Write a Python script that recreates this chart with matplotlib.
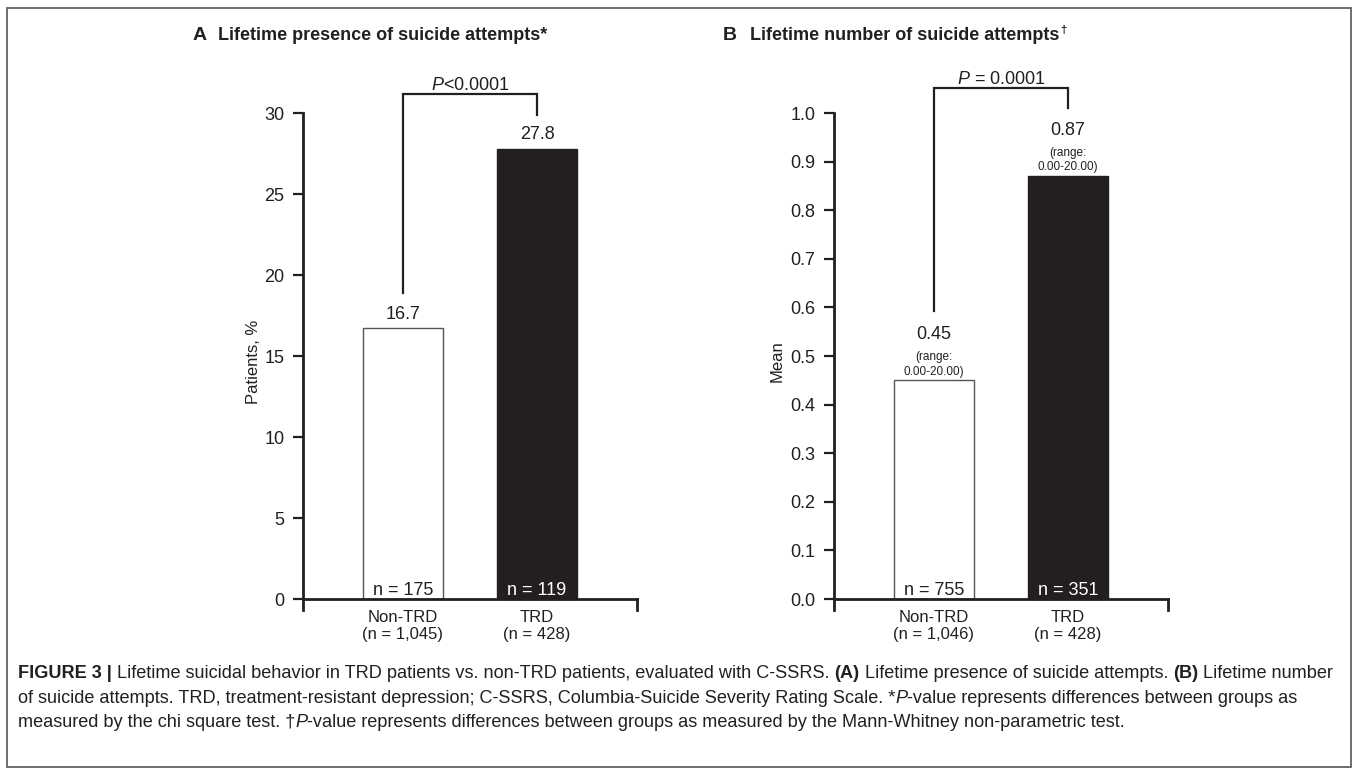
import matplotlib
matplotlib.use("Agg")
import matplotlib.pyplot as plt
from matplotlib.patches import Rectangle

# no condensed Helvetica here, Liberation Sans is the closest
plt.rcParams["font.family"] = ["Liberation Sans", "DejaVu Sans"]
plt.rcParams["mathtext.fontset"] = "custom"
plt.rcParams["mathtext.rm"] = "Liberation Sans"
plt.rcParams["mathtext.it"] = "Liberation Sans:italic"
plt.rcParams["mathtext.bf"] = "Liberation Sans:bold"

# data
groups = ["Non-TRD", "TRD"]
a_vals = [16.7, 27.8]
a_n = ["n = 175", "n = 119"]
a_totals = ["(n = 1,045)", "(n = 428)"]
b_vals = [0.45, 0.87]
b_n = ["n = 755", "n = 351"]
b_totals = ["(n = 1,046)", "(n = 428)"]
b_range = "(range:\n0.00-20.00)"
a_ticks = [0, 5, 10, 15, 20, 25, 30]
b_ticks = [0.0, 0.1, 0.2, 0.3, 0.4, 0.5, 0.6, 0.7, 0.8, 0.9, 1.0]
a_bracket = (31.2, 18.9, 29.9)   # top, left end, right end
b_bracket = (1.051, 0.593, 1.01)

W, H = 1358, 775
fig = plt.figure(figsize=(W / 100, H / 100), dpi=100)
ink = "#231f20"
bar_cols = ["white", ink]
txt_cols = [ink, "white"]


def px_axes(x0, x1, ytop, ybot):
    return fig.add_axes([x0 / W, 1 - ybot / H, (x1 - x0) / W, (ybot - ytop) / H])


def panel(ax, vals, top, ticks, fmt, ns, totals, ylabel, bracket, ptext, ranged, lpad):
    under = top * 0.0226
    ax.set_ylim(-under, top)
    ax.set_xlim(-0.746, 1.746)
    ax.bar([0, 1], vals, width=0.6, color=bar_cols, edgecolor=["#555555", ink], linewidth=1.0)
    ax.spines["top"].set_visible(False)
    for s in ["left", "bottom", "right"]:
        ax.spines[s].set_linewidth(2.0)
        ax.spines[s].set_color(ink)
    ax.spines["bottom"].set_position(("data", 0))
    ax.spines["right"].set_bounds(-under, 0)
    ax.set_yticks(ticks)
    ax.set_yticklabels([fmt.format(t) for t in ticks])
    ax.tick_params(axis="y", length=7.5, width=1.6, pad=6, labelsize=13, colors=ink)
    ax.set_xticks([0, 1])
    ax.set_xticklabels([f"{g}\n{t}" for g, t in zip(groups, totals)], linespacing=1.15, color=ink)
    ax.tick_params(axis="x", length=0, pad=8, labelsize=12)
    ax.set_ylabel(ylabel, fontsize=12, labelpad=lpad, color=ink)
    for i, v in enumerate(vals):
        ax.text(i, 0, ns[i], ha="center", va="bottom", fontsize=13, color=txt_cols[i])
        if ranged:
            ax.annotate(b_range, (i, v), xytext=(0, 2), textcoords="offset points",
                        ha="center", va="bottom", fontsize=8.5, linespacing=1.3, color=ink)
            ax.annotate(f"{v:.2f}", (i, v), xytext=(0, 27), textcoords="offset points",
                        ha="center", va="bottom", fontsize=13, color=ink)
        else:
            ax.annotate(f"{v:.1f}", (i, v), xytext=(0, 4), textcoords="offset points",
                        ha="center", va="bottom", fontsize=13, color=ink)
    btop, bl, br = bracket
    ax.plot([0, 0, 1, 1], [bl, btop, btop, br], color=ink, lw=1.6, clip_on=False,
            solid_joinstyle="miter")
    ax.text(0.5, btop, ptext, ha="center", va="bottom", fontsize=13, color=ink)


ax_a = px_axes(303, 637, 113, 610)
panel(ax_a, a_vals, 30, a_ticks, "{:.0f}", a_n, a_totals, "Patients, %", a_bracket,
      r"$\it{P}$<0.0001", False, 2)
ax_b = px_axes(834, 1168, 113, 610)
panel(ax_b, b_vals, 1.0, b_ticks, "{:.1f}", b_n, b_totals, "Mean", b_bracket,
      r"$\it{P}$ = 0.0001", True, 4)

fig.canvas.draw()
renderer = fig.canvas.get_renderer()

# panel titles
fig.text(193 / W, 1 - 35 / H, "A", fontsize=14, fontweight="bold", va="center", color=ink)
fig.text(218 / W, 1 - 35 / H, "Lifetime presence of suicide attempts*", fontsize=13,
         fontweight="bold", va="center", color=ink)
fig.text(723 / W, 1 - 35 / H, "B", fontsize=14, fontweight="bold", va="center", color=ink)
tb = fig.text(750 / W, 1 - 35 / H, "Lifetime number of suicide attempts", fontsize=13,
              fontweight="bold", va="center", color=ink)
bb = tb.get_window_extent(renderer)
fig.text((bb.x1 + 1) / W, 1 - 30 / H, "\u2020", fontsize=8, fontweight="bold", va="center", color=ink)

# caption, drawn run by run
caption = [
    [("FIGURE 3 |", "bold", "normal"),
     (" Lifetime suicidal behavior in TRD patients vs. non-TRD patients, evaluated with C-SSRS. ", "normal", "normal"),
     ("(A)", "bold", "normal"), (" Lifetime presence of suicide attempts. ", "normal", "normal"),
     ("(B)", "bold", "normal"), (" Lifetime number", "normal", "normal")],
    [("of suicide attempts. TRD, treatment-resistant depression; C-SSRS, Columbia-Suicide Severity Rating Scale. *", "normal", "normal"),
     ("P", "normal", "italic"), ("-value represents differences between groups as", "normal", "normal")],
    [("measured by the chi square test. \u2020", "normal", "normal"), ("P", "normal", "italic"),
     ("-value represents differences between groups as measured by the Mann-Whitney non-parametric test.", "normal", "normal")],
]
line_y = [678, 703, 727]   # baselines


def measure(runs, size):
    total = 0
    for s, w, st in runs:
        t = fig.text(0, 0, s, fontsize=size, fontweight=w, style=st)
        total += t.get_window_extent(renderer).width
        t.remove()
    return total


cap_size = 12 * 1320 / measure(caption[0], 12)
for runs, y in zip(caption, line_y):
    x = 18
    for s, w, st in runs:
        t = fig.text(x / W, 1 - y / H, s, fontsize=cap_size, fontweight=w, style=st,
                     va="baseline", color=ink)
        x += t.get_window_extent(renderer).width

# frame
fig.patches.append(Rectangle((7 / W, 8 / H), (W - 14) / W, (H - 16) / H, transform=fig.transFigure,
                             fill=False, edgecolor="#555555", lw=1.2))

fig.savefig("out.png", dpi=100)
